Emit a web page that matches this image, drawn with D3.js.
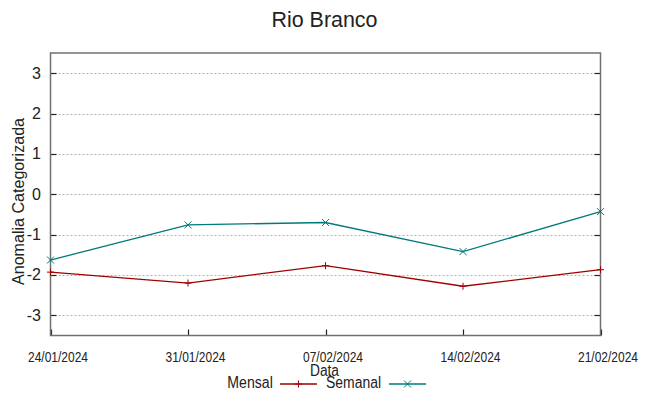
<!DOCTYPE html>
<html>
<head>
<meta charset="utf-8">
<script src="https://cdn.jsdelivr.net/npm/d3@7"></script>
<style>
  body { margin: 0; background: #fff; }
  text { font-family: "Liberation Sans", Arial, sans-serif; fill: #222; }
</style>
</head>
<body>
<div id="chart"></div>
<script>
// data
var dates = ["2024-01-24", "2024-01-31", "2024-02-07", "2024-02-14", "2024-02-21"];
var mensal = [-1.93, -2.20, -1.77, -2.28, -1.87];
var semanal = [-1.63, -0.76, -0.70, -1.42, -0.43];
var yTicks = [-3, -2, -1, 0, 1, 2, 3];

var width = 649, height = 396;
var margin = {left: 50.5, right: 48.5, top: 53, bottom: 60.5};

var parse = d3.timeParse("%Y-%m-%d");
var fmt = d3.timeFormat("%d/%m/%Y");
var days = dates.map(parse);

var svg = d3.select("#chart").append("svg")
    .attr("width", width)
    .attr("height", height);

var x = d3.scaleTime()
    .domain(d3.extent(days))
    .range([margin.left, width - margin.right]);

var y = d3.scaleLinear()
    .domain([-3.5, 3.5])
    .range([height - margin.bottom, margin.top]);

// grid
svg.append("g").selectAll("line")
    .data(yTicks)
    .enter().append("line")
    .attr("x1", x.range()[0])
    .attr("x2", x.range()[1])
    .attr("y1", function (d) { return Math.round(y(d)) + 0.5; })
    .attr("y2", function (d) { return Math.round(y(d)) + 0.5; })
    .style("stroke", "#b0b0b0")
    .style("stroke-dasharray", "2,2");

// ticks, inward, left and right
var tg = svg.append("g").style("stroke", "#222").style("stroke-width", 1.2);
yTicks.forEach(function (d) {
    var yy = Math.round(y(d)) + 0.5;
    tg.append("line").attr("x1", x.range()[0]).attr("x2", x.range()[0] + 6).attr("y1", yy).attr("y2", yy);
    tg.append("line").attr("x1", x.range()[1]).attr("x2", x.range()[1] - 6).attr("y1", yy).attr("y2", yy);
});
days.forEach(function (d) {
    var xx = Math.round(x(d)) + 0.5;
    tg.append("line").attr("x1", xx).attr("x2", xx).attr("y1", y.range()[0]).attr("y2", y.range()[0] - 6);
});

// frame
svg.append("rect")
    .attr("x", x.range()[0])
    .attr("y", y.range()[1])
    .attr("width", x.range()[1] - x.range()[0])
    .attr("height", y.range()[0] - y.range()[1])
    .style("fill", "none")
    .style("stroke", "#707070")
    .style("stroke-width", 1.5);

// y tick labels
svg.append("g").selectAll("text")
    .data(yTicks)
    .enter().append("text")
    .attr("x", 41)
    .attr("y", function (d) { return y(d) + 5.5; })
    .attr("text-anchor", "end")
    .style("font-size", "16px")
    .text(function (d) { return d; });

// x tick labels (narrow, shifted a little right of the tick in the reference)
svg.append("g").selectAll("text")
    .data(days)
    .enter().append("text")
    .attr("x", function (d) { return x(d) + 7.5; })
    .attr("y", 361.5)
    .attr("text-anchor", "middle")
    .attr("textLength", 60)
    .attr("lengthAdjust", "spacingAndGlyphs")
    .style("font-size", "15px")
    .text(function (d) { return fmt(d); });

// title and axis labels
svg.append("text")
    .attr("x", 324.5).attr("y", 26.5)
    .attr("text-anchor", "middle")
    .style("font-size", "22px")
    .attr("textLength", 106)
    .attr("lengthAdjust", "spacingAndGlyphs")
    .text("Rio Branco");

svg.append("text")
    .attr("x", 324.5).attr("y", 375.5)
    .attr("text-anchor", "middle")
    .attr("textLength", 29)
    .attr("lengthAdjust", "spacingAndGlyphs")
    .style("font-size", "16px")
    .text("Data");

svg.append("text")
    .attr("transform", "translate(24," + 201.5 + ") rotate(-90)")
    .attr("text-anchor", "middle")
    .style("font-size", "16px")
    .attr("textLength", 167)
    .attr("lengthAdjust", "spacingAndGlyphs")
    .text("Anomalia Categorizada");

// series
var series = [
    {name: "Mensal", values: mensal, color: "#a00000", mark: "plus", lx: 227.3, lw: 45.5, sx: 280},
    {name: "Semanal", values: semanal, color: "#007a7a", mark: "cross", lx: 326, lw: 55, sx: 389}
];

var line = d3.line()
    .x(function (d, i) { return x(days[i]); })
    .y(function (d) { return y(d); });

function marker(g, cx, cy, kind, color) {
    var s = 3.5;
    var p = kind === "plus"
        ? "M" + (cx - s) + "," + cy + "h" + 2 * s + "M" + cx + "," + (cy - s) + "v" + 2 * s
        : "M" + (cx - s) + "," + (cy - s) + "l" + 2 * s + "," + 2 * s + "M" + (cx - s) + "," + (cy + s) + "l" + 2 * s + "," + (-2 * s);
    g.append("path").attr("d", p).style("stroke", color).style("stroke-width", 1).style("fill", "none");
}

series.forEach(function (s) {
    var g = svg.append("g");
    g.append("path")
        .datum(s.values)
        .attr("d", line)
        .style("fill", "none")
        .style("stroke", s.color)
        .style("stroke-width", 1.3);
    s.values.forEach(function (v, i) {
        marker(g, x(days[i]), y(v), s.mark, s.color);
    });

    // legend entry
    svg.append("text")
        .attr("x", s.lx).attr("y", 388.3)
        .attr("textLength", s.lw)
        .attr("lengthAdjust", "spacingAndGlyphs")
        .style("font-size", "16px")
        .text(s.name);
    svg.append("line")
        .attr("x1", s.sx).attr("x2", s.sx + 37)
        .attr("y1", 384).attr("y2", 384)
        .style("stroke", s.color)
        .style("stroke-width", 1.3);
    marker(svg, s.sx + 18.5, 384, s.mark, s.color);
});
</script>
</body>
</html>
